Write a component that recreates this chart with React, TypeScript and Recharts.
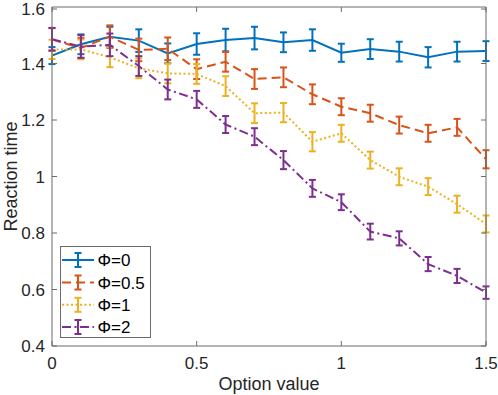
import React from 'react';
import { ComposedChart, Line, XAxis, YAxis, ErrorBar, Legend, Label } from 'recharts';

const xValues = [0, 0.1, 0.2, 0.3, 0.4, 0.5, 0.6, 0.7, 0.8, 0.9, 1.0, 1.1, 1.2, 1.3, 1.4, 1.5];
const phi0 = [1.428, 1.468, 1.495, 1.481, 1.436, 1.469, 1.483, 1.49, 1.475, 1.483, 1.438, 1.451, 1.442, 1.422, 1.442, 1.444];
const phi05 = [1.485, 1.455, 1.495, 1.448, 1.452, 1.38, 1.406, 1.345, 1.351, 1.291, 1.247, 1.224, 1.182, 1.153, 1.174, 1.061];
const phi1 = [1.45, 1.45, 1.422, 1.383, 1.365, 1.363, 1.32, 1.224, 1.226, 1.123, 1.153, 1.058, 0.999, 0.964, 0.902, 0.832];
const phi2 = [1.486, 1.46, 1.466, 1.391, 1.308, 1.273, 1.184, 1.141, 1.058, 0.958, 0.909, 0.805, 0.781, 0.69, 0.648, 0.589];
const err0 = [0.03, 0.035, 0.035, 0.04, 0.035, 0.038, 0.04, 0.04, 0.035, 0.038, 0.032, 0.035, 0.035, 0.036, 0.035, 0.035];
const err05 = [0.04, 0.035, 0.04, 0.04, 0.04, 0.035, 0.035, 0.035, 0.035, 0.035, 0.03, 0.03, 0.03, 0.03, 0.03, 0.032];
const err1 = [0.034, 0.035, 0.035, 0.035, 0.035, 0.035, 0.035, 0.035, 0.034, 0.034, 0.03, 0.03, 0.03, 0.03, 0.03, 0.03];
const err2 = [0.04, 0.04, 0.04, 0.035, 0.035, 0.03, 0.03, 0.03, 0.032, 0.03, 0.028, 0.028, 0.025, 0.025, 0.025, 0.022];

const xTicks = [0, 0.5, 1, 1.5];
const yTicks = [0.4, 0.6, 0.8, 1, 1.2, 1.4, 1.6];
const seriesNames = ['Φ=0', 'Φ=0.5', 'Φ=1', 'Φ=2'];

const colors = ['#0072BD', '#D95319', '#EDB120', '#7E2F8E'];
const dashes = [undefined, '9 5', '2 2.5', '9 3.5 2 3.5'];
const AXIS = '#6b6b6b';
const FONT = '"Liberation Sans", Arial, Helvetica, sans-serif';

const data = xValues.map((x, i) => ({
  x,
  p0: phi0[i], e0: err0[i],
  p05: phi05[i], e05: err05[i],
  p1: phi1[i], e1: err1[i],
  p2: phi2[i], e2: err2[i],
}));

const BottomTick = (props: any) => {
  const { x, y, payload } = props;
  return (
    <g>
      <line x1={x} x2={x} y1={y} y2={y - 5} stroke={AXIS} strokeWidth={1} />
      <text x={x} y={y + 22.5} textAnchor="middle" fontSize={17} fontFamily={FONT} fill="#262626">
        {String(payload.value)}
      </text>
    </g>
  );
};

const TopTick = (props: any) => {
  const { x, y } = props;
  return <line x1={x} x2={x} y1={y} y2={y + 5} stroke={AXIS} strokeWidth={1} />;
};

const LeftTick = (props: any) => {
  const { x, y, payload } = props;
  return (
    <g>
      <line x1={x} x2={x + 5} y1={y} y2={y} stroke={AXIS} strokeWidth={1} />
      <text x={x - 7} y={y} dy="0.36em" textAnchor="end" fontSize={17} fontFamily={FONT} fill="#262626">
        {String(payload.value)}
      </text>
    </g>
  );
};

const RightTick = (props: any) => {
  const { x, y } = props;
  return <line x1={x} x2={x - 5} y1={y} y2={y} stroke={AXIS} strokeWidth={1} />;
};

const LegendBox = () => {
  const rows = [14, 36.5, 58.8, 81];
  return (
    <svg width={91} height={92} style={{ display: 'block' }}>
      <rect x={0.5} y={0.5} width={90} height={91} fill="#fff" stroke={AXIS} strokeWidth={1} />
      {seriesNames.map((name, i) => (
        <g key={name}>
          <line x1={2} x2={34} y1={rows[i]} y2={rows[i]} stroke={colors[i]} strokeWidth={2} strokeDasharray={dashes[i]} />
          <line x1={18} x2={18} y1={rows[i] - 7} y2={rows[i] + 7} stroke={colors[i]} strokeWidth={2} />
          <line x1={14.5} x2={21.5} y1={rows[i] - 7} y2={rows[i] - 7} stroke={colors[i]} strokeWidth={2} />
          <line x1={14.5} x2={21.5} y1={rows[i] + 7} y2={rows[i] + 7} stroke={colors[i]} strokeWidth={2} />
          <text x={37.5} y={rows[i]} dy="0.36em" fontSize={17} fontFamily={FONT} fill="#000">{name}</text>
        </g>
      ))}
    </svg>
  );
};

const YLabel = (props: any) => {
  const vb = props.viewBox || { x: 0, y: 7, width: 52, height: 339 };
  const cx = vb.x + 11;
  const cy = vb.y + vb.height / 2;
  return (
    <text x={cx} y={cy} dy="0.36em" textAnchor="middle" transform={`rotate(-90, ${cx}, ${cy})`} fontSize={18} fontFamily={FONT} fill="#262626">
      Reaction time
    </text>
  );
};

const XLabel = (props: any) => {
  const vb = props.viewBox || { x: 52, y: 346, width: 434, height: 49 };
  const cx = vb.x + vb.width / 2;
  return (
    <text x={cx} y={vb.y + 44} textAnchor="middle" fontSize={18} fontFamily={FONT} fill="#262626">
      Option value
    </text>
  );
};

const keys = ['p0', 'p05', 'p1', 'p2'];
const errKeys = ['e0', 'e05', 'e1', 'e2'];

export default function App() {
  return (
    <div style={{ position: 'absolute', left: 0, top: 0, width: 498, height: 395, background: '#fff' }}>
      <ComposedChart width={498} height={395} data={data} margin={{ top: 0, right: 0, bottom: 0, left: 0 }}>
        <XAxis
          xAxisId="b"
          dataKey="x"
          type="number"
          domain={[0, 1.5]}
          ticks={xTicks}
          height={49}
          tickSize={0}
          tickMargin={0}
          tickLine={false}
          axisLine={{ stroke: AXIS }}
          tick={<BottomTick />}
          allowDataOverflow
        >
          <Label content={<XLabel />} />
        </XAxis>
        <XAxis
          xAxisId="t"
          orientation="top"
          dataKey="x"
          type="number"
          domain={[0, 1.5]}
          ticks={xTicks}
          height={7}
          tickSize={0}
          tickMargin={0}
          tickLine={false}
          axisLine={{ stroke: AXIS }}
          tick={<TopTick />}
          allowDataOverflow
        />
        <YAxis
          yAxisId="l"
          type="number"
          domain={[0.4, 1.6]}
          ticks={yTicks}
          width={52}
          tickSize={0}
          tickMargin={0}
          tickLine={false}
          axisLine={{ stroke: AXIS }}
          tick={<LeftTick />}
          allowDataOverflow
        >
          <Label content={<YLabel />} />
        </YAxis>
        <YAxis
          yAxisId="r"
          orientation="right"
          type="number"
          domain={[0.4, 1.6]}
          ticks={yTicks}
          width={12}
          tickSize={0}
          tickMargin={0}
          tickLine={false}
          axisLine={{ stroke: AXIS }}
          tick={<RightTick />}
          allowDataOverflow
        />
        {keys.map((k, i) => (
          <Line
            key={k}
            xAxisId="b"
            yAxisId="l"
            dataKey={k}
            type="linear"
            stroke={colors[i]}
            strokeWidth={2}
            strokeDasharray={dashes[i]}
            dot={false}
            activeDot={false}
            isAnimationActive={false}
          >
            <ErrorBar dataKey={errKeys[i]} width={3.5} strokeWidth={2} stroke={colors[i]} direction="y" />
          </Line>
        ))}
        <Legend
          layout="vertical"
          align="center"
          verticalAlign="middle"
          content={<LegendBox />}
          wrapperStyle={{ position: 'absolute', left: 60, top: 246, width: 91, height: 92, bottom: 'auto', right: 'auto' }}
        />
      </ComposedChart>
    </div>
  );
}
